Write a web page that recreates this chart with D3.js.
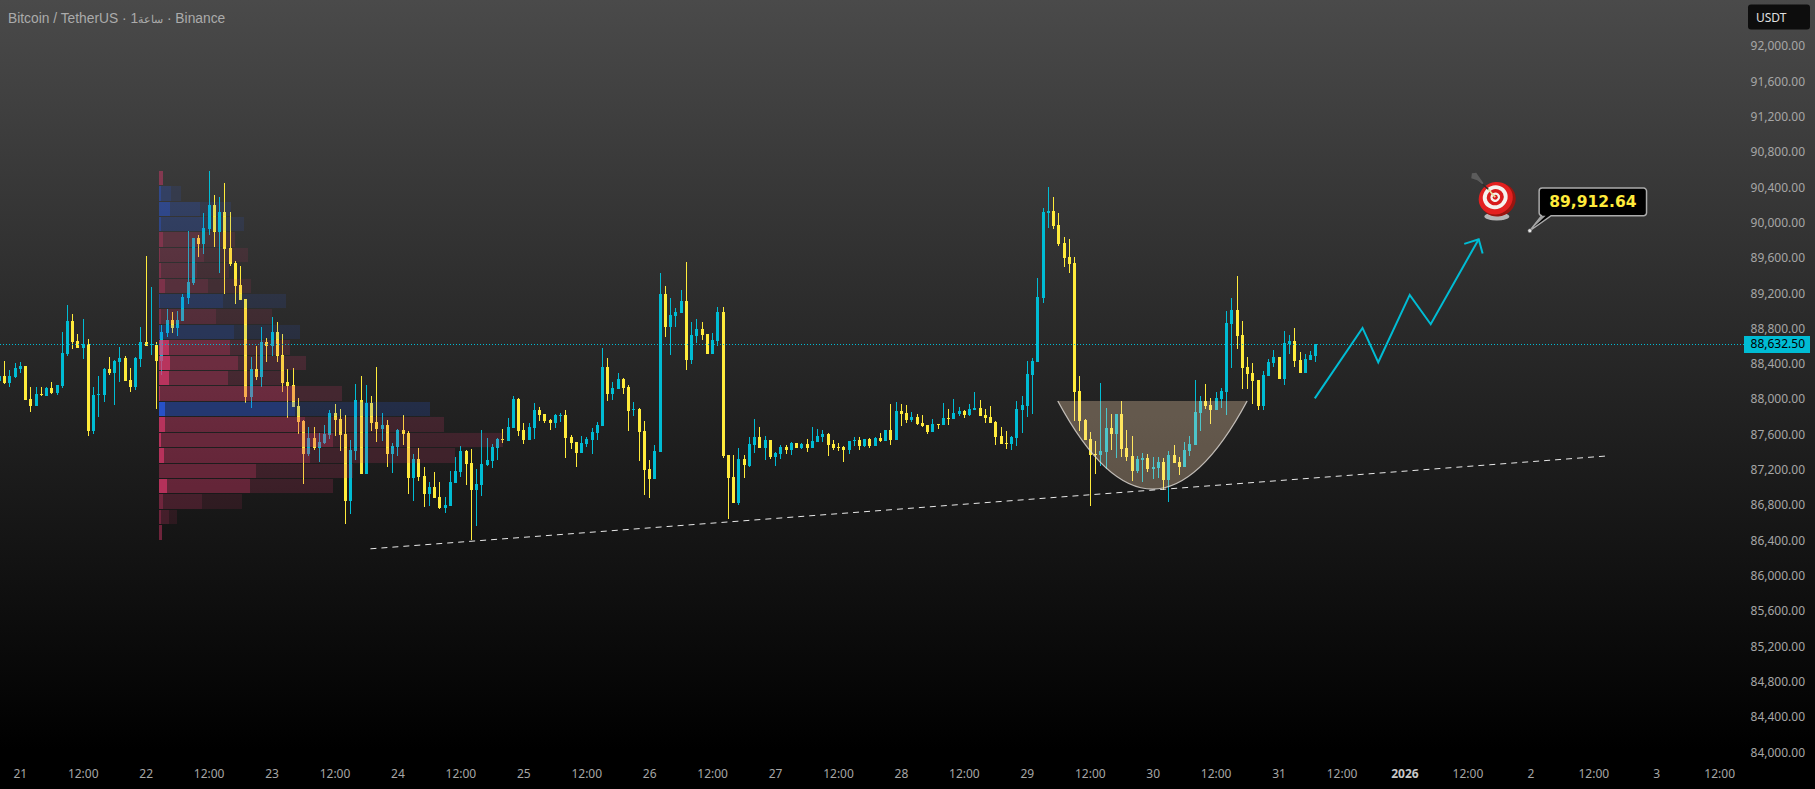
<!DOCTYPE html>
<html><head><meta charset="utf-8">
<script src="https://cdn.jsdelivr.net/npm/d3@7"></script>
<style>html,body{margin:0;padding:0;background:#000;overflow:hidden}svg{display:block}</style>
</head><body><svg id="c" width="1815" height="789"></svg>
<script>
const startHour=-4;
const opens=[88210,88267,88188,88256,88347,88381,88006,87927,88063,88040,
88131,88074,88154,88517,88891,88664,88585,88630,87643,88052,
88052,88347,88301,88426,88471,88222,88142,88460,88653,88619,
88619,88437,88755,88902,88811,88891,89152,89322,89832,89764,
89934,90206,89900,90127,89719,89549,89299,89140,88029,88347,
88256,88653,88607,88766,88505,88199,88165,87927,87757,87383,
87564,87451,87507,87598,87848,87780,87609,86850,87417,87995,
87156,87961,87746,87666,87711,87383,87462,87655,87621,87110,
87326,87133,86929,87008,86895,86770,86793,87054,87179,87417,
87281,86974,87031,87258,87303,87451,87553,87530,87678,88007,
87655,87542,87678,87882,87836,87768,87734,87814,87825,87576,
87519,87394,87496,87542,87621,87700,88369,88063,88120,88233,
88143,87882,87893,87644,87213,87099,87406,89197,88823,88948,
88982,89118,88449,88721,88800,88744,88517,88664,88993,87371,
87122,86827,87326,87247,87485,87576,87451,87542,87349,87383,
87462,87428,87508,87451,87496,87451,87519,87576,87610,87496,
87462,87462,87428,87530,87542,87474,87553,87474,87564,87530,
87655,87542,87870,87848,87768,87802,87734,87712,87632,87723,
87712,87791,87780,87836,87870,87825,87882,87904,87825,87802,
87746,87587,87507,87496,87564,87881,87927,88278,88426,89151,
90115,90138,89979,89775,89616,89548,88097,87768,87553,87382,
87371,87405,87677,87609,87836,87450,87360,87190,87314,87337,
87212,87224,87292,87088,87371,87292,87235,87416,87484,87847,
87983,87938,87881,88006,88086,88857,89015,88732,88369,88301,
88222,87927,88267,88414,88482,88233,88630,88664,88448,88301,
88448,88494];
const highs=[88290,88437,88335,88415,88426,88381,88142,88142,88142,88142,
88199,88165,88766,89072,88970,88743,88914,88687,88142,88267,
88358,88483,88449,88596,88494,88358,88483,88823,89628,89276,
88653,88845,89027,88993,89004,89197,89911,89832,89866,90116,
90592,90320,90297,90456,90127,89571,89515,89140,88483,88607,
88823,88698,88936,88880,88743,88347,88358,88018,87768,87689,
87689,87621,87711,87882,87950,87893,87825,87541,88176,88267,
88165,88040,88369,87848,87768,87507,87666,87825,87643,87383,
87451,87235,87065,87179,87065,86895,87190,87349,87473,87428,
87439,87213,87655,87564,87496,87564,87666,87791,88041,88018,
87734,87734,87961,87916,87836,87780,87836,87848,87882,87598,
87519,87587,87576,87678,87746,88585,88471,88199,88301,88245,
88165,87973,87904,87757,87315,87485,89435,89288,89152,89038,
89243,89560,88880,88914,88880,88744,88755,89050,89050,87371,
87371,87451,87371,87576,87780,87689,87587,87542,87406,87485,
87485,87519,87508,87508,87553,87689,87666,87655,87621,87542,
87508,87474,87530,87576,87576,87553,87564,87576,87621,87655,
87950,87973,87950,87938,87859,87836,87825,87712,87780,87723,
87961,87893,88007,87916,87882,87950,88086,87995,87893,87927,
87757,87689,87643,87587,87983,88040,88437,88471,89378,90172,
90410,90297,90115,89843,89821,89616,88267,87779,87632,87530,
88188,87904,87836,87836,87983,87655,87587,87360,87394,87382,
87348,87348,87337,87416,87484,87348,87519,87587,88222,88040,
88176,88017,88086,88131,89004,89151,89401,88891,88482,88414,
88222,88324,88460,88562,88482,88777,88732,88811,88539,88516,
88550,88632.5];
const lows=[88176,88176,88142,88244,88301,87995,87859,87927,88040,88040,
88063,88052,88131,88494,88573,88585,88460,87587,87609,87802,
87972,88278,87938,88199,88210,88086,88108,88369,88607,88505,
87893,88278,88709,88755,88721,88891,89084,89299,89617,89651,
89866,89730,89435,89197,89515,89084,89129,87961,87904,88222,
88142,88426,88494,88426,88086,87791,87916,87609,87042,87360,
87428,87292,87496,87553,87587,87417,86589,86702,87315,87156,
87156,87643,87519,87530,87235,87167,87360,87485,86929,86850,
87076,86782,86793,86884,86759,86714,86793,87054,87122,87031,
86407,86566,86906,87247,87224,87315,87508,87530,87678,87587,
87496,87542,87553,87757,87734,87655,87678,87746,87337,87440,
87235,87394,87462,87383,87542,87700,87984,87995,88120,88063,
87644,87814,87303,86918,86884,87099,87406,88710,88505,88823,
88982,88335,88403,88642,88676,88517,88517,88608,87337,86646,
86827,86804,87111,87235,87394,87451,87315,87326,87247,87326,
87383,87371,87451,87440,87406,87451,87519,87519,87360,87428,
87417,87292,87383,87474,87428,87462,87451,87474,87519,87530,
87485,87542,87700,87734,87746,87712,87689,87610,87632,87666,
87712,87712,87780,87814,87791,87814,87882,87814,87734,87734,
87485,87496,87439,87428,87473,87621,87802,87836,88426,89095,
89945,89934,89741,89503,89435,87757,87643,87541,86793,87156,
87246,87212,87428,87337,87348,87303,87076,87167,87065,87178,
87099,87110,86974,86838,87280,87144,87235,87360,87484,87643,
87893,87723,87881,87904,87825,88358,88573,88120,88120,87949,
87881,87881,88267,88369,88233,88165,88516,88369,88301,88301,
88448,88426];
const closes=[88267,88188,88267,88358,88381,87995,87927,88063,88052,88131,
88074,88165,88528,88891,88653,88585,88630,87643,88052,88063,
88347,88301,88437,88471,88210,88142,88471,88653,88607,88630,
88437,88766,88902,88811,88902,89163,89333,89832,89764,89945,
90206,89900,90127,89707,89537,89288,89129,88029,88347,88256,
88653,88607,88766,88494,88188,88154,87916,87746,87383,87564,
87451,87519,87609,87848,87768,87598,86850,87428,87995,87156,
87961,87734,87666,87711,87383,87473,87655,87609,87110,87326,
87122,86929,87008,86884,86770,86804,87065,87190,87417,87269,
86974,87042,87269,87315,87462,87553,87542,87689,88007,87644,
87542,87689,87882,87825,87757,87734,87825,87825,87564,87508,
87394,87508,87553,87632,87712,88369,88063,88131,88233,88131,
87870,87893,87632,87201,87099,87417,89197,88823,88959,88993,
89118,88449,88732,88800,88732,88517,88676,88993,87360,87111,
86827,87326,87258,87496,87576,87451,87542,87349,87394,87462,
87428,87508,87451,87496,87451,87530,87587,87610,87485,87451,
87451,87428,87530,87542,87474,87553,87474,87564,87530,87655,
87542,87870,87836,87768,87802,87723,87700,87632,87723,87712,
87791,87780,87848,87870,87825,87893,87904,87814,87791,87734,
87576,87496,87496,87575,87893,87938,88290,88437,89163,90127,
90138,89968,89764,89605,89537,88086,87757,87541,87371,87371,
87416,87677,87609,87836,87439,87348,87190,87326,87337,87212,
87235,87292,87088,87371,87280,87235,87428,87496,87859,87983,
87927,87881,88017,88097,88868,89015,88721,88358,88290,88210,
87927,88278,88426,88482,88233,88641,88664,88437,88301,88460,
88505,88632.5];
const lastPrice=88632.5;
const priceTicks=[84000,84400,84800,85200,85600,86000,86400,86800,87200,87600,88000,88400,88800,89200,89600,90000,90400,90800,91200,91600,92000];
const timeHours=[0,12,24,36,48,60,72,84,96,108,120,132,144,156,168,180,192,204,216,228,240,252,264,276,288,300,312,324];
const timeLabels=["21","12:00","22","12:00","23","12:00","24","12:00","25","12:00","26","12:00","27","12:00","28","12:00","29","12:00","30","12:00","31","12:00","2026","12:00","2","12:00","3","12:00"];
const profileTop=90592, profileStep=174.5;
const profileBright=[4,2,11,2,4,1,2,6,1,2,0.5,10,11,10,1,6,6,2,5,0,8,4,2,3];
const profileMid=[4,12,41,45,41,45,38,49,64,57,75,71,79,69,136,136,146,174,151,97,91,43,10,3];
const profileTotal=[4,22,72,85,76,89,70,92,127,113,141,131,147,126,183,271,285,344,296,194,174,83,18,3];
const profileSide=["r","b","b","b","r","r","r","r","b","r","b","r","r","r","r","b","r","r","r","r","r","r","r","r"];
const valueArea=[11,20];
const trendHours=[66.85,302.3], trendPrices=[86311,87361];
const cupHours=[197.9,216,234], cupPrices=[87984,85989,87984];
const waveHours=[246.9,256,259,265,269,278.15], wavePrices=[88015,88812,88423,89186,88854,89817];
const headHours=[275.4,278.15,278.9], headPrices=[89764,89817,89654];
const targetPrice=89912.64, targetHour=287.9;

const svg=d3.select("#c");
const W=1815,H=789;
const FONT="'Noto Sans',sans-serif";
const defs=svg.append("defs");
const g=defs.append("linearGradient").attr("id","bg").attr("x1",0).attr("x2",0).attr("y1",0).attr("y2",1);
g.append("stop").attr("offset",0).attr("stop-color","#4a4a4a");
g.append("stop").attr("offset",0.95).attr("stop-color","#000");
svg.append("rect").attr("width",W).attr("height",H).attr("fill","url(#bg)");

const x=d3.scaleLinear().domain([0,324]).range([19.8,19.8+324*5.245]);
const y=d3.scaleLinear().domain([84000,92000]).range([752.9,46.4]);
const vol=d3.scaleLinear().domain([0,344]).range([159,503]);
const UP="#00bcd4",DN="#ffeb3b";

const candles=opens.map((o,i)=>({h:startHour+i,o,hi:highs[i],lo:lows[i],c:closes[i]}));
const cg=svg.append("g").attr("shape-rendering","crispEdges");
cg.selectAll("rect.w").data(candles).join("rect").attr("class","w")
 .attr("x",d=>Math.round(x(d.h))).attr("width",1)
 .attr("y",d=>Math.round(y(d.hi))).attr("height",d=>Math.max(1,Math.round(y(d.lo))-Math.round(y(d.hi))))
 .attr("fill",d=>d.c>=d.o?UP:DN);
cg.selectAll("rect.b").data(candles).join("rect").attr("class","b")
 .attr("x",d=>Math.round(x(d.h))-1).attr("width",3)
 .attr("y",d=>Math.round(y(Math.max(d.o,d.c)))).attr("height",d=>Math.max(1,Math.round(y(Math.min(d.o,d.c)))-Math.round(y(Math.max(d.o,d.c)))))
 .attr("fill",d=>d.c>=d.o?UP:DN);

// volume profile, drawn above candles with transparency
const pg=svg.append("g").attr("shape-rendering","crispEdges");
const BASE={r:"233,58,112",b:"41,98,255"};
profileTotal.forEach((t,i)=>{
 const top=Math.round(y(profileTop-i*profileStep)),bot=Math.round(y(profileTop-(i+1)*profileStep))-1;
 const inVA=i>=valueArea[0]&&i<=valueArea[1];
 const a=inVA?[.75,.36,.17]:[.42,.22,.11];
 const segs=[[0,profileBright[i],a[0]],[profileBright[i],profileMid[i],a[1]],[profileMid[i],t,a[2]]];
 segs.forEach(s=>{ if(s[1]>s[0]) pg.append("rect").attr("x",vol(s[0])).attr("width",vol(s[1])-vol(s[0]))
  .attr("y",top).attr("height",bot-top).attr("fill",`rgba(${BASE[profileSide[i]]},${s[2]})`);});
});

// cup
const cp=d3.path();cp.moveTo(x(cupHours[0]),y(cupPrices[0]));cp.quadraticCurveTo(x(cupHours[1]),y(cupPrices[1]),x(cupHours[2]),y(cupPrices[2]));
const cpOpen=cp.toString();
svg.append("path").attr("d",cpOpen+"Z").attr("fill","rgba(255,220,178,.3)");
svg.append("path").attr("d",cpOpen).attr("fill","none").attr("stroke","rgba(225,220,215,.8)").attr("stroke-width",1.3);

// trend line
svg.append("line").attr("x1",x(trendHours[0])).attr("y1",y(trendPrices[0])).attr("x2",x(trendHours[1])).attr("y2",y(trendPrices[1]))
 .attr("stroke","#e8e8e8").attr("stroke-width",1).attr("stroke-dasharray","6 5");

// last price line
svg.append("line").attr("x1",0).attr("x2",1744).attr("y1",Math.round(y(lastPrice))+.5).attr("y2",Math.round(y(lastPrice))+.5)
 .attr("stroke",UP).attr("stroke-width",1).attr("stroke-dasharray","1 2");

// projected wave
const ln=d3.line().x(d=>x(d[0])).y(d=>y(d[1]));
svg.append("path").attr("d",ln(waveHours.map((h,i)=>[h,wavePrices[i]]))).attr("fill","none").attr("stroke",UP).attr("stroke-width",2);
svg.append("path").attr("d",ln(headHours.map((h,i)=>[h,headPrices[i]]))).attr("fill","none").attr("stroke",UP).attr("stroke-width",2);

// target glyph
const tg=svg.append("g").attr("transform",`translate(${x(targetHour)-34.6},${y(targetPrice)-33.5})`);
tg.append("ellipse").attr("cx",1.6).attr("cy",19.3).attr("rx",12.5).attr("ry",4).attr("fill","#b5b5b5");
tg.append("ellipse").attr("cx",2.8).attr("cy",2.6).attr("rx",18).attr("ry",16.5).attr("fill","#9a1510").attr("transform","rotate(-25 2.8 2.6)");
tg.append("ellipse").attr("cx",.5).attr("cy",1).attr("rx",17.3).attr("ry",16).attr("fill","#e3201f").attr("transform","rotate(-25 .5 1)");
tg.append("ellipse").attr("cx",0).attr("cy",0).attr("rx",12.6).attr("ry",11.8).attr("fill","#f5f2ee").attr("transform","rotate(-25)");
tg.append("ellipse").attr("cx",0).attr("cy",0).attr("rx",8.6).attr("ry",8).attr("fill","#d81c1c").attr("transform","rotate(-25)");
tg.append("ellipse").attr("cx",0).attr("cy",0).attr("rx",4.9).attr("ry",4.6).attr("fill","#f5f2ee").attr("transform","rotate(-25)");
tg.append("ellipse").attr("cx",0).attr("cy",0).attr("rx",2.5).attr("ry",2.4).attr("fill","#d81c1c");
tg.append("line").attr("x1",0).attr("y1",0).attr("x2",-7).attr("y2",-8).attr("stroke","#e6dfa0").attr("stroke-width",1.8);
tg.append("line").attr("x1",-7).attr("y1",-8).attr("x2",-17).attr("y2",-17).attr("stroke","#2e2e2e").attr("stroke-width",1.6);
tg.append("path").attr("d","M-23.3,-24 L-19,-24.5 L-11.7,-14 L-13,-13 L-18,-17 L-24,-19 Z").attr("fill","#5c5c5c");

// callout
const tipX=x(targetHour),tipY=y(targetPrice);
const bx=tipX+9.3,by=tipY-42.7,bw=107.4,bh=27.7;
const call=d3.path();
call.moveTo(bx+3,by);call.lineTo(bx+bw-3,by);call.arcTo(bx+bw,by,bx+bw,by+3,3);call.lineTo(bx+bw,by+bh-3);call.arcTo(bx+bw,by+bh,bx+bw-3,by+bh,3);
call.lineTo(bx+12,by+bh);call.lineTo(tipX,tipY);call.lineTo(bx+2.5,by+bh);call.arcTo(bx,by+bh,bx,by+bh-3,3);call.lineTo(bx,by+3);call.arcTo(bx,by,bx+3,by,3);call.closePath();
svg.append("path").attr("d",call.toString()).attr("fill","#000").attr("stroke","#ababab").attr("stroke-width",1.5);
svg.append("path").attr("d",`M${tipX},${tipY}L${bx+2.5},${by+bh}L${bx+6.5},${by+bh}Z`).attr("fill","#a0a0a0");
svg.append("circle").attr("cx",tipX).attr("cy",tipY).attr("r",2).attr("fill","#e6e6e6").attr("stroke","#555").attr("stroke-width",.6);
svg.append("text").attr("x",bx+bw/2).attr("y",by+bh/2+5.6).attr("text-anchor","middle")
 .attr("font-family","'DejaVu Sans',sans-serif").attr("font-weight",700).attr("font-size",15.5).attr("fill",DN).text(d3.format(",.2f")(targetPrice));

// axes
const ya=d3.axisRight(y).tickValues(priceTicks).tickSize(0).tickPadding(0).tickFormat(d3.format(",.2f"));
const yg=svg.append("g").attr("transform","translate(1805,-0.5)").call(ya);
yg.select(".domain").remove();
yg.selectAll("text").attr("text-anchor","end").attr("font-family",FONT).attr("font-size",12).attr("fill","#a6a6a6");

const xa=d3.axisBottom(x).tickValues(timeHours).tickSize(0).tickPadding(0).tickFormat((d,i)=>timeLabels[i]);
const xg=svg.append("g").attr("transform","translate(0,769)").call(xa);
xg.select(".domain").remove();
xg.selectAll("text").attr("font-family",FONT).attr("font-size",12)
 .attr("font-weight",d=>d===264?700:400).attr("fill",d=>d===264?"#c8c8c8":"#a6a6a6");

// price label
svg.append("rect").attr("x",1744).attr("y",Math.round(y(lastPrice))-8).attr("width",66).attr("height",17).attr("fill",UP).attr("shape-rendering","crispEdges");
svg.append("text").attr("x",1805).attr("y",y(lastPrice)+4.4).attr("text-anchor","end").attr("font-family",FONT).attr("font-size",12).attr("fill","#000").text(d3.format(",.2f")(lastPrice));

// USDT
svg.append("rect").attr("x",1748).attr("y",4.5).attr("width",62).attr("height",25).attr("rx",3).attr("fill","#0d0d0d");
svg.append("text").attr("x",1756).attr("y",22).attr("font-family",FONT).attr("font-size",12).attr("fill","#e0e0e0").text("USDT");

// title
const tt=svg.append("text").attr("x",8).attr("y",22.5).attr("font-family","'Liberation Sans',Arial,sans-serif").attr("font-size",13.8).attr("fill","#ababab").attr("direction","ltr");
tt.append("tspan").text("Bitcoin / TetherUS · 1");
tt.append("tspan").attr("font-size",11).text("ساعة");
tt.append("tspan").text(" · Binance");
</script></body></html>
